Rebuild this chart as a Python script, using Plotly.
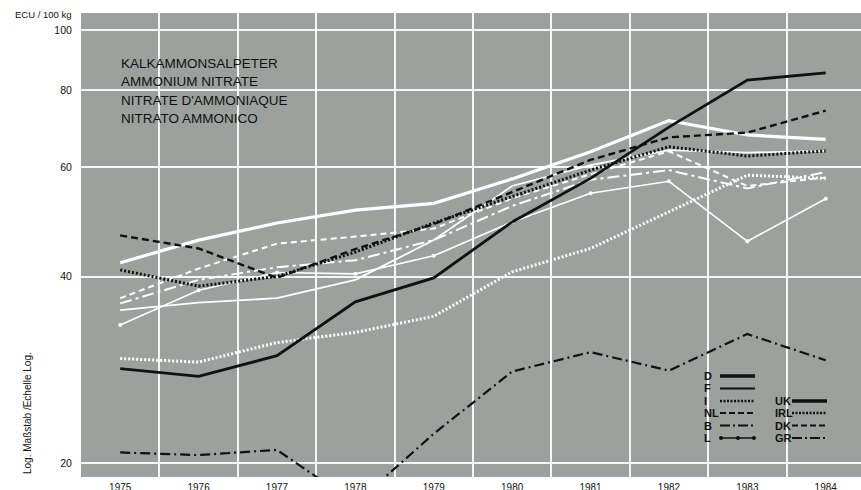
import math
import plotly.graph_objects as go

# ---------------- data (ECU / 100 kg) ----------------
years = [1975, 1976, 1977, 1978, 1979, 1980, 1981, 1982, 1983, 1984]
year_labels = [str(y) for y in years]

d_vals   = [42.1, 45.8, 48.8, 51.2, 52.5, 57.5, 63.6, 71.4, 67.7, 66.6]
f_vals   = [35.3, 36.3, 36.9, 39.5, 45.8, 56.0, 60.5, 64.0, 63.4, 63.8]
i_vals   = [29.5, 29.1, 31.3, 32.5, 34.5, 40.7, 44.4, 50.9, 58.3, 57.6]
nl_vals  = [36.9, 41.2, 45.2, 46.4, 47.8, 53.5, 58.5, 63.7, 56.0, 57.8]
b_vals   = [36.2, 39.5, 41.4, 42.5, 45.8, 52.0, 57.3, 59.4, 55.5, 59.0]
l_vals   = [33.4, 38.0, 40.6, 40.4, 43.2, 49.0, 54.5, 57.0, 45.6, 53.4]
uk_vals  = [28.4, 27.6, 29.8, 36.4, 39.8, 49.0, 57.6, 69.7, 83.0, 85.3]
irl_vals = [41.0, 38.6, 40.0, 43.8, 48.8, 53.8, 59.4, 64.8, 62.6, 63.8]
dk_vals  = [46.6, 44.4, 39.8, 44.3, 48.6, 54.8, 61.7, 67.1, 68.3, 74.1]
gr_vals  = [20.8, 20.6, 21.0, 17.2, 22.3, 28.1, 30.2, 28.2, 32.3, 29.3]

y_ticks = [20, 40, 60, 80, 100]
title_lines = ["KALKAMMONSALPETER", "AMMONIUM NITRATE",
               "NITRATE D'AMMONIAQUE", "NITRATO AMMONICO"]
legend_col1 = ["D", "F", "I", "NL", "B", "L"]
legend_col2 = ["UK", "IRL", "DK", "GR"]

# ---------------- figure geometry ----------------
W, H = 861, 490
L_M, R_M, T_M, B_M = 81, 0, 13, 13
PW, PH = W - L_M - R_M, H - T_M - B_M
FONT = "Liberation Sans, Arial, Helvetica, sans-serif"
BG = "#9ca19e"

def px(x):
    return (x - L_M) / PW

def py(y):
    return (H - B_M - y) / PH

fig = go.Figure()

def add(vals, name, color, width, dash, marker=False):
    fig.add_trace(go.Scatter(
        x=years, y=vals, name=name,
        mode="lines+markers" if marker else "lines",
        line=dict(color=color, width=width, dash=dash),
        marker=dict(size=4, color=color) if marker else None,
        showlegend=False, hoverinfo="x+y+name"))

# black dash-dot first (lowest)
add(gr_vals, "GR", "#111", 2.2, "10px,4px,2px,4px")
# white series
add(i_vals, "I", "white", 3, "2px,2px")
add(l_vals, "L", "white", 1.6, "solid", marker=True)
add(f_vals, "F", "white", 1.8, "solid")
add(b_vals, "B", "white", 2, "12px,4px,3px,4px")
add(nl_vals, "NL", "white", 2, "6px,4px")
add(d_vals, "D", "white", 3.2, "solid")
# black series
add(irl_vals, "IRL", "#111", 3, "2px,2px")
add(dk_vals, "DK", "#111", 2.4, "7px,4px")
add(uk_vals, "UK", "#111", 2.8, "solid")

annotations = []
# title block
for k, t in enumerate(title_lines):
    annotations.append(dict(
        text=t, xref="paper", yref="paper", x=px(119), y=py(63.5 + k * 18.3),
        xanchor="left", yanchor="middle", showarrow=False,
        font=dict(family=FONT, size=13.5, color="#111")))
# axis unit
annotations.append(dict(
    text="ECU / 100 kg", xref="paper", yref="paper", x=px(74), y=py(15),
    xanchor="right", yanchor="middle", showarrow=False,
    font=dict(family=FONT, size=9.5, color="#111")))
annotations.append(dict(
    text="Log. Maßstab /Echelle Log.", xref="paper", yref="paper",
    x=px(27), y=py(413), xanchor="center", yanchor="middle", textangle=-90,
    showarrow=False, font=dict(family=FONT, size=10, color="#111")))

shapes = []
styles1 = [(3.5, "solid"), (2, "solid"), (2.5, "2px,1.5px"),
           (2, "6px,3px"), (2, "10px,3px,2px,3px"), (1.6, "solid")]
rows1 = [376, 388.5, 401, 413, 425.5, 438]
for lab, (w, dsh), yy in zip(legend_col1, styles1, rows1):
    annotations.append(dict(
        text="<b>" + lab + "</b>", xref="paper", yref="paper", x=px(702), y=py(yy),
        xanchor="left", yanchor="middle", showarrow=False,
        font=dict(family=FONT, size=11, color="#111")))
    shapes.append(dict(type="line", xref="paper", yref="paper",
                       x0=px(720), x1=px(755), y0=py(yy), y1=py(yy),
                       line=dict(color="#111", width=w, dash=dsh)))
# markers on the L legend sample
for xx in (721, 738, 754):
    shapes.append(dict(type="circle", xref="paper", yref="paper",
                       x0=px(xx - 2), x1=px(xx + 2), y0=py(438 + 2), y1=py(438 - 2),
                       fillcolor="#111", line=dict(color="#111", width=0)))

styles2 = [(3.5, "solid"), (2.5, "2px,1.5px"), (2.2, "6px,3px"), (2, "10px,3px,2px,3px")]
rows2 = [401, 413, 425.5, 438]
for lab, (w, dsh), yy in zip(legend_col2, styles2, rows2):
    annotations.append(dict(
        text="<b>" + lab + "</b>", xref="paper", yref="paper", x=px(773), y=py(yy),
        xanchor="left", yanchor="middle", showarrow=False,
        font=dict(family=FONT, size=11, color="#111")))
    shapes.append(dict(type="line", xref="paper", yref="paper",
                       x0=px(792), x1=px(827), y0=py(yy), y1=py(yy),
                       line=dict(color="#111", width=w, dash=dsh)))

y_lo = 100 * 10 ** (-(477 - 30) / 619.5)
y_hi = 100 * 10 ** ((30 - 13) / 619.5)

fig.update_layout(
    width=W, height=H,
    margin=dict(l=L_M, r=R_M, t=T_M, b=B_M, pad=0, autoexpand=False),
    paper_bgcolor="white", plot_bgcolor=BG,
    font=dict(family=FONT, color="#111"),
    showlegend=False,
    annotations=annotations, shapes=shapes,
    xaxis=dict(
        range=[1974.5, 1984.45], tickvals=years, ticktext=year_labels,
        showgrid=False, zeroline=False, showline=False, automargin=False,
        ticks="outside", ticklen=1, tickcolor="rgba(0,0,0,0)",
        tickfont=dict(size=10, color="#111"),
        minor=dict(tickvals=[y + 0.5 for y in years[:-1]], showgrid=True,
                   gridcolor="rgba(255,255,255,0.9)", gridwidth=1.5, ticks=""),
    ),
    yaxis=dict(
        type="log", range=[math.log10(y_lo), math.log10(y_hi)],
        tickvals=y_ticks, ticktext=[str(v) for v in y_ticks],
        showgrid=True, gridcolor="rgba(255,255,255,0.9)", gridwidth=1.5,
        zeroline=False, showline=False, automargin=False,
        ticks="outside", ticklen=6, tickcolor="rgba(0,0,0,0)",
        tickfont=dict(size=10.5, color="#111"),
    ),
)

fig.write_html("out.html", config={"displayModeBar": False},
               post_script="document.body.style.margin='0';document.body.style.padding='0';")
